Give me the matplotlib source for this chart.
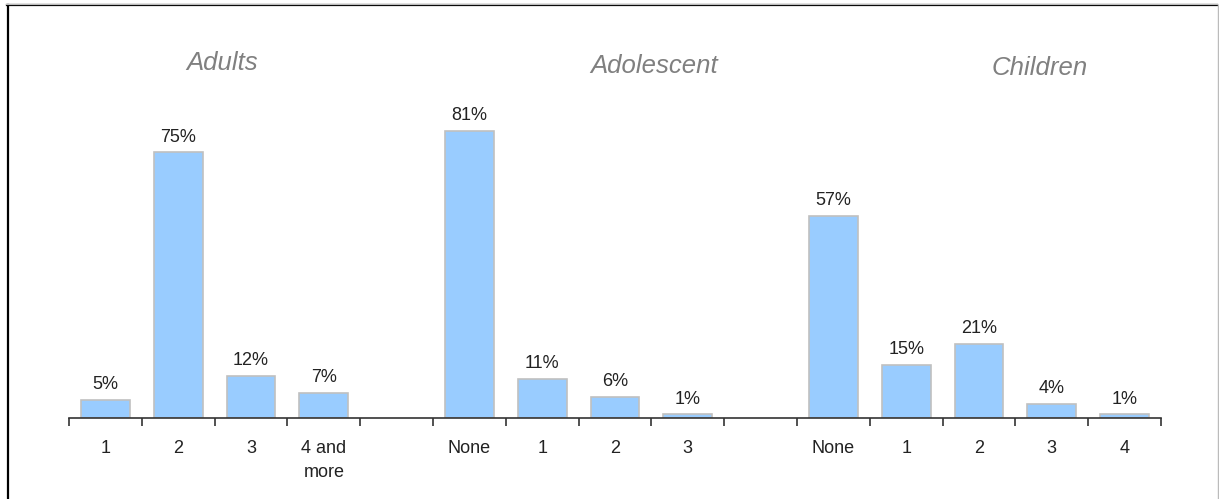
import matplotlib.pyplot as plt
from matplotlib.lines import Line2D
import numpy as np

plt.rcParams['font.family'] = ['Liberation Sans', 'DejaVu Sans']

# data, one list per group
adults_cats = ["1", "2", "3", "4 and\nmore"]
adults_vals = [5, 75, 12, 7]
adol_cats = ["None", "1", "2", "3"]
adol_vals = [81, 11, 6, 1]
child_cats = ["None", "1", "2", "3", "4"]
child_vals = [57, 15, 21, 4, 1]
group_names = ["Adults", "Adolescent", "Children"]

# lay out the slots: one empty slot between groups
labels, values = [], []
for cats, vals in [(adults_cats, adults_vals), (adol_cats, adol_vals), (child_cats, child_vals)]:
    if labels:
        labels.append("")
        values.append(np.nan)
    labels += cats
    values += vals
n = len(labels)
x = np.arange(n) + 0.5

W, H = 1219, 499
fig = plt.figure(figsize=(W / 100, H / 100), dpi=100)
# axes box in pixels: x 69..1161, baseline at y=418, 3.54 px per %
left, right, base = 69, 1161, 418
ymax = 90
top = base - 3.54 * ymax
ax = fig.add_axes([left / W, (H - base) / H, (right - left) / W, (base - top) / H])

ax.bar(x, values, width=0.67, color="#99CCFF", edgecolor="#C0C0C0", linewidth=1.2)
for xi, v in zip(x, values):
    if np.isnan(v):
        continue
    ax.annotate(f"{v:.0f}%", (xi, v), xytext=(0, 5), textcoords="offset points",
                ha="center", va="bottom", fontsize=13, color="#222222")

ax.set_xlim(0, n)
ax.set_ylim(0, ymax)
ax.set_yticks([])
for s in ["top", "right", "left"]:
    ax.spines[s].set_visible(False)
ax.spines["bottom"].set_color("#333333")
ax.spines["bottom"].set_linewidth(1.2)

# boundary ticks as major, category names as minor
ax.set_xticks(np.arange(n + 1))
ax.set_xticklabels([])
ax.tick_params(axis="x", which="major", direction="out", length=6, width=1.2, color="#333333")
ax.set_xticks(x, minor=True)
ax.set_xticklabels(labels, minor=True, fontsize=13, color="#222222", linespacing=1.55)
ax.tick_params(axis="x", which="minor", length=0, pad=16)
for lab in ax.get_xticklabels(minor=True):
    lab.set_verticalalignment("top")

# group titles
title_pos = [(222, 63), (654, 66), (1040, 68)]
for name, (px, py) in zip(group_names, title_pos):
    fig.text(px / W, 1 - py / H, name, ha="center", va="center", fontsize=18.5,
             style="italic", color="#808080")

# frame around the picture
fig.add_artist(Line2D([7.5 / W, 7.5 / W], [0, 1 - 5 / H], color="black", lw=1.6))
fig.add_artist(Line2D([7 / W, 1217 / W], [1 - 5 / H, 1 - 5 / H], color="black", lw=1.6))
fig.add_artist(Line2D([6 / W, 1217 / W], [1 - 3.5 / H, 1 - 3.5 / H], color="#BBBBBB", lw=0.8))
fig.add_artist(Line2D([1217.5 / W, 1217.5 / W], [0, 1 - 5 / H], color="#BBBBBB", lw=1.0))

fig.savefig("out.png", dpi=100)
